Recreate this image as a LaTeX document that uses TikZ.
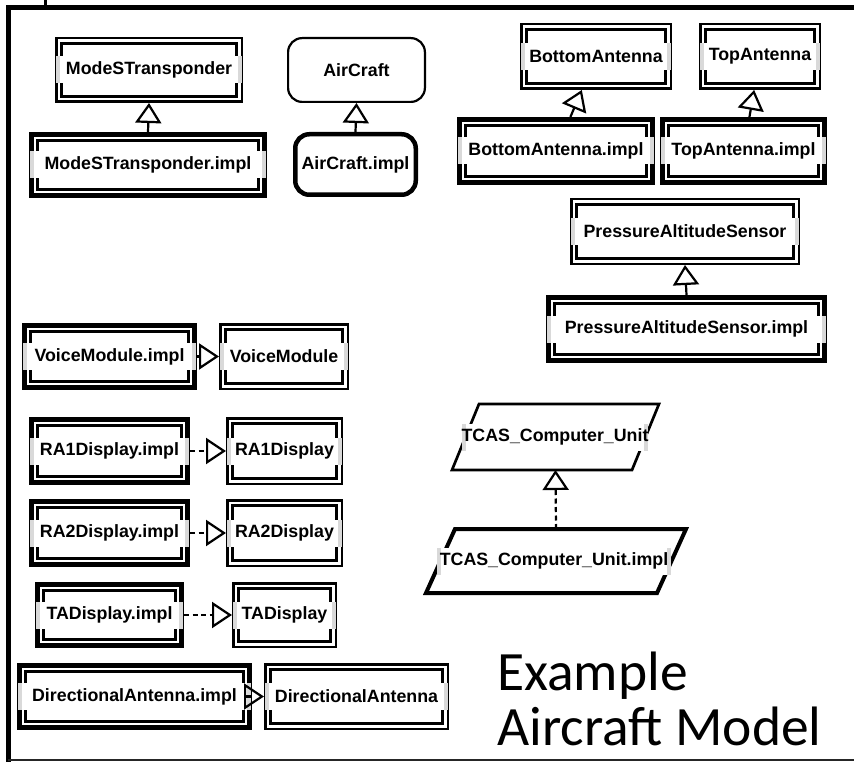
\documentclass[tikz,border=0pt]{standalone}
\usepackage{fontspec}
\setmainfont{Liberation Sans}
\newfontfamily\titlefont{Carlito}
\usetikzlibrary{arrows.meta}

\tikzset{
  boxgeom/.style={draw=none, inner sep=0pt, outer sep=0pt},
  lbl/.style={fill=white, inner sep=0pt, outer sep=0pt, minimum height=27pt,
    font=\fontsize{17.8pt}{20pt}\selectfont\bfseries, text=black,
    path picture={
      \fill[gray!30] (path picture bounding box.south west) rectangle ([xshift=4pt]path picture bounding box.north west);
      \fill[gray!30] ([xshift=-4pt]path picture bounding box.south east) rectangle (path picture bounding box.north east);
    }},
  sysbox/.style={draw, rounded corners=14pt, inner sep=0pt,
    font=\fontsize{17.8pt}{20pt}\selectfont\bfseries, text=black},
  gen/.style={line width=2.2pt, -{Triangle[open, length=20pt, width=26pt]}},
  realize/.style={gen, dash pattern=on 5pt off 3.5pt},
  titletext/.style={inner sep=0pt, anchor=base west, font=\titlefont\fontsize{55.5pt}{60pt}\selectfont},
  frameline/.style={line width=4.6pt},
}

% component type: thin outer border, thick inner border
\newcommand\typebox[6]{%
  \node[boxgeom, minimum width={#4pt-#2pt}, minimum height={#5pt-#3pt}] (#1) at ({(#2+#4)/2},{(#3+#5)/2}) {};
  \draw[line width=2.5pt] ([shift={(1.25pt,-1.25pt)}]#1.north west) rectangle ([shift={(-1.25pt,1.25pt)}]#1.south east);
  \draw[line width=3pt] ([shift={(6.5pt,-6.5pt)}]#1.north west) rectangle ([shift={(-6.5pt,6.5pt)}]#1.south east);
  \node[lbl, minimum width={#4pt-#2pt-2pt}] (#1-label) at (#1) {#6};
}
% component implementation: thick outer border, thinner inner border
\newcommand\implbox[6]{%
  \node[boxgeom, minimum width={#4pt-#2pt}, minimum height={#5pt-#3pt}] (#1) at ({(#2+#4)/2},{(#3+#5)/2}) {};
  \draw[line width=5pt] ([shift={(2.5pt,-2.5pt)}]#1.north west) rectangle ([shift={(-2.5pt,2.5pt)}]#1.south east);
  \draw[line width=3pt] ([shift={(8.5pt,-8.5pt)}]#1.north west) rectangle ([shift={(-8.5pt,8.5pt)}]#1.south east);
  \node[lbl, minimum width={#4pt-#2pt-2pt}] (#1-label) at (#1) {#6};
}

\begin{document}
\begin{tikzpicture}[x=1pt, y=-1pt, line join=miter]
\useasboundingbox (0,0) rectangle (854,762);

% package frame
\draw[frameline] (6.2,7.5) -- (854,7.5);
\draw[frameline] (8.4,5.2) -- (8.4,762);
\draw[line width=3pt] (45,0) -- (45,7.5);
\draw[line width=1.5pt, black!85] (8,760) -- (854,760);

% component types and implementations
\typebox{mst}{55}{37}{243}{103}{ModeSTransponder}
\implbox{msti}{29}{132}{267}{198}{ModeSTransponder.impl}

\node[sysbox, line width=2.2pt, minimum width=136.8pt, minimum height=63.8pt] (ac) at (356.5,70) {AirCraft};
\node[sysbox, line width=4.5pt, minimum width=120.5pt, minimum height=60.5pt] (aci) at (355.5,164.5) {AirCraft.impl};

\typebox{bant}{520}{23}{672}{90}{BottomAntenna}
\typebox{tant}{699}{23}{821}{90}{TopAntenna}
\implbox{banti}{457}{117}{655}{185}{BottomAntenna.impl}
\implbox{tanti}{660}{117}{827}{185}{TopAntenna.impl}

\typebox{pas}{570}{198}{800}{265}{PressureAltitudeSensor}
\implbox{pasi}{546}{295}{827}{363}{PressureAltitudeSensor.impl}

\implbox{vmi}{22}{323}{197}{390}{VoiceModule.impl}
\typebox{vm}{219}{323}{349}{390}{VoiceModule}

\implbox{ra1i}{29}{417}{190}{485}{RA1Display.impl}
\typebox{ra1}{226}{417}{343}{485}{RA1Display}

\implbox{ra2i}{29}{499}{190}{567}{RA2Display.impl}
\typebox{ra2}{226}{499}{343}{567}{RA2Display}

\implbox{tadi}{35}{582}{184}{648}{TADisplay.impl}
\typebox{tad}{232}{582}{337}{648}{TADisplay}

\implbox{danti}{17}{663}{252}{730}{DirectionalAntenna.impl}
\typebox{dant}{264}{663}{449}{730}{DirectionalAntenna}

% abstract parallelogram types
\node[boxgeom, minimum width=207pt, minimum height=66pt] (tcas) at (555.5,437) {};
\draw[line width=2.7pt] ([xshift=27pt]tcas.north west) -- (tcas.north east)
  -- ([xshift=-27pt]tcas.south east) -- (tcas.south west) -- cycle;
\node[lbl, minimum width=186pt] (tcas-label) at (555,437) {TCAS\_Computer\_Unit};

\node[boxgeom, minimum width=260pt, minimum height=64pt] (tcasi) at (556,561) {};
\draw[line width=4pt] ([xshift=29pt]tcasi.north west) -- (tcasi.north east)
  -- ([xshift=-29pt]tcasi.south east) -- (tcasi.south west) -- cycle;
\node[lbl, minimum width=234pt] (tcasi-label) at (554,561) {TCAS\_Computer\_Unit.impl};

% generalisation / realisation connectors
\draw[gen] (msti.north) -- (mst.south);
\draw[gen] (aci.north) -- (ac.south);
\draw[gen] (banti) -- (bant);
\draw[gen] (tanti) -- (tant);
\draw[gen] (pasi.north) -- (pas.south);
\draw[gen] (vmi) -- (vm);
\draw[realize] (ra1i) -- (ra1);
\draw[realize] (ra2i) -- (ra2);
\draw[realize] (tadi) -- (tad);
\draw[gen] (danti) -- (dant);
\draw[realize] (tcasi.north) -- (tcas.south);

% caption
\node[titletext] (caption1) at (497,690) {Example};
\node[titletext] (caption2) at (497,745) {Aircraft Model};
\end{tikzpicture}
\end{document}
